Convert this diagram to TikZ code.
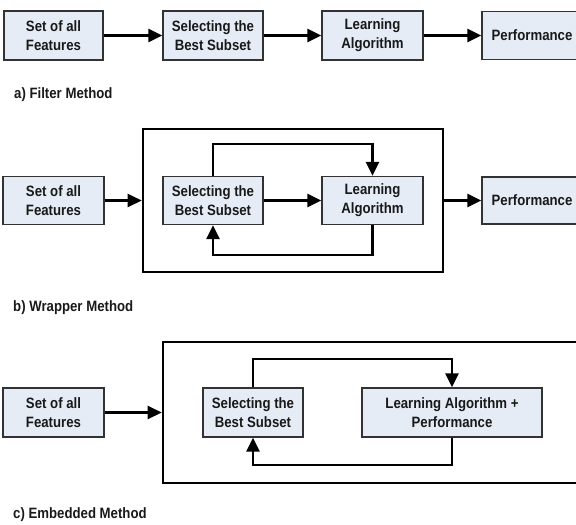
\documentclass[tikz,border=0pt]{standalone}
\usepackage{fontspec}
\setmainfont{Liberation Sans}[FakeStretch=0.88]
\usetikzlibrary{arrows.meta,calc}
\definecolor{boxfill}{RGB}{230,236,246}
\definecolor{boxline}{RGB}{50,50,50}
\tikzset{
  blk/.style={draw=boxline, line width=1.3pt, fill=boxfill, inner sep=0pt,
    align=center, font=\fontsize{15}{19}\selectfont\bfseries, text=black!90},
  outerbox/.style={draw=black, line width=2.6pt, inner sep=0pt},
  arr/.style={line width=2.5pt, -{Triangle[length=14pt,width=13pt]}},
  conn/.style={line width=2.5pt},
  lbl/.style={font=\fontsize{15}{19}\selectfont\bfseries, anchor=west, inner sep=0pt, text=black!90}
}
\begin{document}
\begin{tikzpicture}[x=1pt,y=-1pt]
\useasboundingbox (0,0) rectangle (576,525);
\begin{scope}
\clip (0,0) rectangle (576,525);
% ---------- a) Filter ----------
\node[blk, minimum width=99pt, minimum height=49pt] (feat1) at (53.5,35.5) {Set of all\\Features};
\node[blk, minimum width=100pt, minimum height=49pt] (sel1) at (213,35.5) {Selecting the\\Best Subset};
\node[blk, minimum width=101pt, minimum height=49pt] (la1) at (372.5,35.5) {Learning\\Algorithm};
\node[blk, minimum width=100pt, minimum height=48pt] (perf1) at (532,35.5) {Performance};
\draw[arr] (feat1) -- (sel1);
\draw[arr] (sel1) -- (la1);
\draw[arr] (la1) -- (perf1);
\node[lbl] (labA) at (14,95) {a) Filter Method};
% ---------- b) Wrapper ----------
\node[outerbox, minimum width=300pt, minimum height=143pt] (outer2) at (293,200.5) {};
\node[blk, minimum width=101pt, minimum height=48pt] (feat2) at (53.5,200.5) {Set of all\\Features};
\node[blk, minimum width=100pt, minimum height=48pt] (sel2) at (213,200.5) {Selecting the\\Best Subset};
\node[blk, minimum width=101pt, minimum height=48pt] (la2) at (372.5,200.5) {Learning\\Algorithm};
\node[blk, minimum width=100pt, minimum height=47pt] (perf2) at (532,200.5) {Performance};
\coordinate (top2) at (0,144);
\coordinate (bot2) at (0,255);
\draw[arr] (feat2.east) -- (outer2.west);
\draw[arr] (sel2) -- (la2);
\draw[arr] (outer2.east) -- (perf2.west);
\draw[arr] (sel2.north) -- (sel2.north |- top2) -| (la2.north);
\draw[arr] (la2.south) -- (la2.south |- bot2) -| (sel2.south);
\node[lbl] (labB) at (13,308) {b) Wrapper Method};
% ---------- c) Embedded ----------
\node[outerbox, minimum width=437pt, minimum height=141pt] (outer3) at (381.5,412.5) {};
\node[blk, minimum width=101pt, minimum height=49pt] (feat3) at (53.5,412.5) {Set of all\\Features};
\node[blk, minimum width=100pt, minimum height=49pt] (sel3) at (253,412.5) {Selecting the\\Best Subset};
\node[blk, minimum width=180pt, minimum height=49pt] (lap3) at (452,412.5) {Learning Algorithm +\\Performance};
\coordinate (top3) at (0,359);
\coordinate (bot3) at (0,465);
\draw[arr] (feat3.east) -- (outer3.west);
\draw[arr] (sel3.north) -- (sel3.north |- top3) -| (lap3.north);
\draw[arr] (lap3.south) -- (lap3.south |- bot3) -| (sel3.south);
\node[lbl] (labC) at (13,515) {c) Embedded Method};
\end{scope}
\end{tikzpicture}
\end{document}
